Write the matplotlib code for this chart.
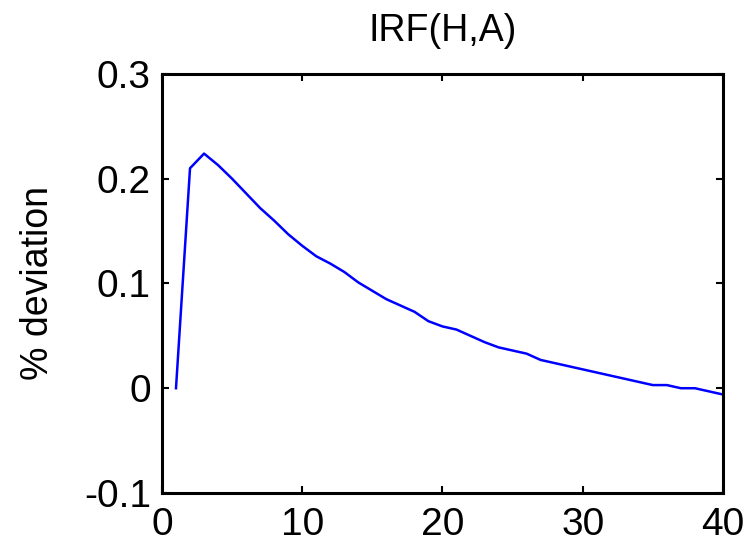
import matplotlib
matplotlib.use("Agg")
import matplotlib.pyplot as plt

# impulse response
periods = list(range(1, 41))
irf = [0.000, 0.210, 0.224, 0.213, 0.200, 0.186, 0.172, 0.160, 0.147, 0.136,
       0.126, 0.119, 0.111, 0.101, 0.093, 0.085, 0.079, 0.073, 0.064, 0.059,
       0.056, 0.050, 0.044, 0.039, 0.036, 0.033, 0.027, 0.024, 0.021, 0.018,
       0.015, 0.012, 0.009, 0.006, 0.003, 0.003, 0.000, 0.000, -0.003, -0.006]

xticks = [0, 10, 20, 30, 40]
yticks = [-0.1, 0, 0.1, 0.2, 0.3]
ytick_labels = ["-0.1", "0", "0.1", "0.2", "0.3"]

plt.rcParams["font.family"] = ["Liberation Sans", "DejaVu Sans"]

fig = plt.figure(figsize=(7.53, 5.44), dpi=100)
ax = fig.add_axes([0.2151, 0.0938, 0.7450, 0.7702])

ax.plot(periods, irf, color="#0000ff", linewidth=1.8)

ax.set_xlim(0, 40)
ax.set_ylim(-0.1, 0.3)
ax.set_xticks(xticks)
ax.set_yticks(yticks)
ax.set_yticklabels(ytick_labels)
ax.tick_params(direction="in", length=5, width=1.5, top=True, right=True,
               labelsize=28, pad=8)
ax.tick_params(axis="x", pad=10)
for s in ax.spines.values():
    s.set_linewidth(2.2)

ax.set_title("IRF(H,A)", fontsize=27, pad=24)
ax.set_ylabel("% deviation", fontsize=27, labelpad=20)

fig.savefig("out.png", dpi=100)
